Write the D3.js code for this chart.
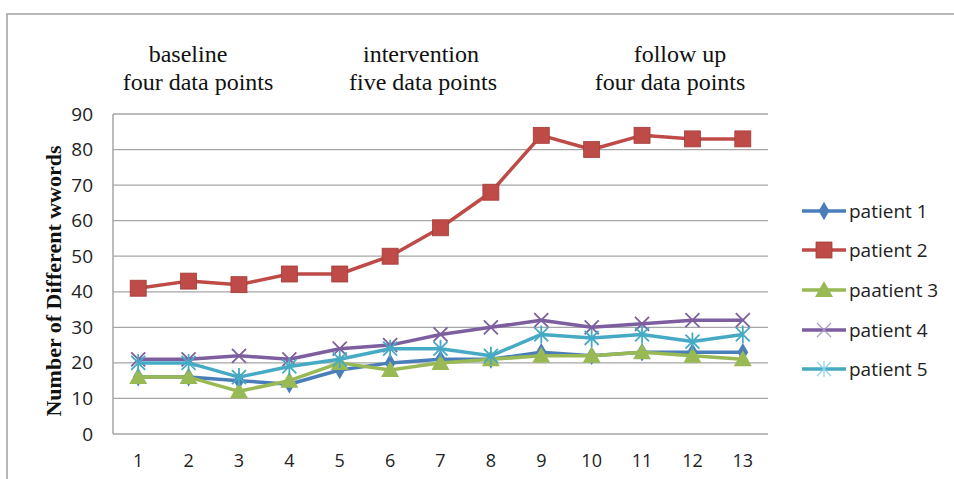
<!DOCTYPE html>
<html><head><meta charset="utf-8">
<script src="https://cdn.jsdelivr.net/npm/d3@7"></script>
<style>body{margin:0;background:#fff}svg{display:block}</style>
</head><body>
<script>
const sessions = [1,2,3,4,5,6,7,8,9,10,11,12,13];
const yTicks = [0,10,20,30,40,50,60,70,80,90];
const seriesNames = ["patient 1","patient 2","paatient 3","patient 4","patient 5"];
const patient1 = [16,16,15,14,18,20,21,21,23,22,23,23,23];
const patient2 = [41,43,42,45,45,50,58,68,84,80,84,83,83];
const patient3 = [16,16,12,15,20,18,20,21,22,22,23,22,21];
const patient4 = [21,21,22,21,24,25,28,30,32,30,31,32,32];
const patient5 = [20,20,16,19,21,24,24,22,28,27,28,26,28];
const phaseTitles = ["baseline","intervention","follow up"];
const phaseSubs = ["four data points","five data points","four data points"];

const colors = ["#4a7ebb","#be4b48","#98b954","#7d5fa0","#46aac5"];
const shapes = ["diamond","square","triangle","x","star"];
const values = [patient1,patient2,patient3,patient4,patient5];

const W=954,H=479;
const svg=d3.select("body").append("svg").attr("width",W).attr("height",H);
// outer frame
svg.append("path").attr("d",`M7,${H} L7,14 L${W},14`).attr("fill","none").attr("stroke","#a0a0a0").attr("stroke-width",1.5);

const pL=113,pR=768,pT=114,pB=434;
const x=d3.scaleBand().domain(sessions).range([pL,pR]);
const y=d3.scaleLinear().domain([0,90]).range([pB,pT]);

// gridlines
svg.append("g").selectAll("line").data(yTicks).join("line")
  .attr("x1",pL).attr("x2",pR).attr("y1",d=>y(d)).attr("y2",d=>y(d))
  .attr("stroke","#a6a6a6").attr("stroke-width",1.3);
svg.append("line").attr("x1",pL).attr("x2",pL).attr("y1",pT).attr("y2",pB)
  .attr("stroke","#a6a6a6").attr("stroke-width",1.5);

// y axis labels
const yAxis=d3.axisLeft(y).tickValues(yTicks).tickSize(0).tickPadding(20);
const gy=svg.append("g").attr("transform",`translate(${pL},0)`).call(yAxis);
gy.select(".domain").remove();
gy.selectAll("text").attr("font-family","'Open Sans',sans-serif").attr("font-size",19).attr("fill","#222");

const xAxis=d3.axisBottom(x).tickSize(0).tickPadding(20);
const gx=svg.append("g").attr("transform",`translate(0,${pB})`).call(xAxis);
gx.select(".domain").remove();
gx.selectAll("text").attr("font-family","'Open Sans',sans-serif").attr("font-size",18).attr("fill","#222");

// y title
svg.append("text").attr("transform",`translate(61,281) rotate(-90)`).attr("text-anchor","middle")
  .attr("font-family","'Liberation Serif','Times New Roman',serif").attr("font-weight","bold")
  .attr("font-size",22).attr("fill","#111").text("Number of Different wwords");

// phase annotations
const phaseX=[198,423,670];
const phaseX1=[188,421,680];
phaseTitles.forEach((t,i)=>{
  svg.append("text").attr("x",phaseX1[i]).attr("y",62).attr("text-anchor","middle")
    .attr("font-family","'Liberation Serif',serif").attr("font-size",24).attr("fill","#111").text(t);
  svg.append("text").attr("x",phaseX[i]).attr("y",90).attr("text-anchor","middle")
    .attr("font-family","'Liberation Serif',serif").attr("font-size",24).attr("fill","#111").text(phaseSubs[i]);
});

const cx=d=>x(d)+x.bandwidth()/2;
function marker(g,shape,color,px,py){
  if(shape==="diamond"){
    g.append("path").attr("d",d3.symbol(d3.symbolDiamond,100)()).attr("transform",`translate(${px},${py})`).attr("fill",color);
  } else if(shape==="square"){
    g.append("rect").attr("x",px-8).attr("y",py-8).attr("width",16).attr("height",16).attr("fill",color).attr("stroke","#a33c39").attr("stroke-width",0.8);
  } else if(shape==="triangle"){
    g.append("path").attr("d",`M${px},${py-9}L${px+9},${py+7}L${px-9},${py+7}Z`).attr("fill",color);
  } else if(shape==="x"){
    g.append("path").attr("d",`M${px-7},${py-7}L${px+7},${py+7}M${px+7},${py-7}L${px-7},${py+7}`).attr("stroke",color).attr("stroke-width",1.8);
  } else {
    g.append("path").attr("d",`M${px-7},${py-7}L${px+7},${py+7}M${px+7},${py-7}L${px-7},${py+7}M${px},${py-9}L${px},${py+9}`).attr("stroke",color).attr("stroke-width",1.8);
  }
}
const line=d3.line().x((d,i)=>cx(sessions[i])).y(d=>y(d));
values.forEach((vals,s)=>{
  const g=svg.append("g");
  g.append("path").datum(vals).attr("d",line).attr("fill","none").attr("stroke",colors[s]).attr("stroke-width",3.5).attr("stroke-linejoin","round");
  vals.forEach((v,i)=>marker(g,shapes[s],colors[s],cx(sessions[i]),y(v)));
});

// legend
const legY=[211,250,290,330,369];
seriesNames.forEach((n,i)=>{
  const g=svg.append("g");
  g.append("line").attr("x1",802).attr("x2",846).attr("y1",legY[i]).attr("y2",legY[i]).attr("stroke",colors[i]).attr("stroke-width",3.5);
  const sh=shapes[i];
  if(sh==="x"||sh==="star"){
    const c=sh==="x"?"#a996c4":"#8fd3e6";
    g.append("path").attr("d",`M817,${legY[i]-7}L831,${legY[i]+7}M831,${legY[i]-7}L817,${legY[i]+7}`+(sh==="star"?`M824,${legY[i]-8}L824,${legY[i]+8}`:"")).attr("stroke",c).attr("stroke-width",1.2);
  } else marker(g,sh,colors[i],824,legY[i]);
  g.append("text").attr("x",849).attr("y",legY[i]).attr("dy","0.35em")
    .attr("font-family","'Open Sans',sans-serif").attr("font-size",19).attr("fill","#222").text(n);
});
</script>
</body></html>
